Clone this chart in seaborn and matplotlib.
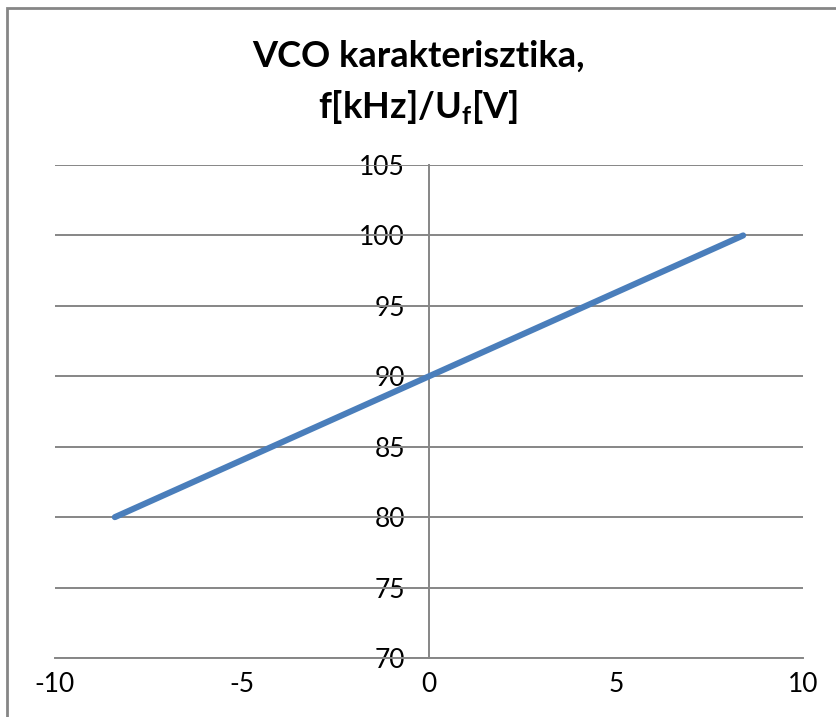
import matplotlib
matplotlib.use("Agg")
import matplotlib.pyplot as plt
import seaborn as sns
import pandas as pd
from matplotlib.patches import Rectangle

# Data
voltage_V = [-8.4, 0.0, 8.4]
freq_kHz = [80.0, 90.0, 100.0]
x_ticks = [-10, -5, 0, 5, 10]
y_ticks = [70, 75, 80, 85, 90, 95, 100, 105]
title_line1 = "VCO karakterisztika,"
title_line2 = r"f[kHz]/U$_\mathbf{f}$[V]"

sns.set_style("white")
plt.rcParams["font.family"] = ["Lato", "DejaVu Sans"]
plt.rcParams["mathtext.fontset"] = "custom"
plt.rcParams["mathtext.bf"] = "Lato:bold"
plt.rcParams["mathtext.rm"] = "Lato"

W, H = 837, 717
dpi = 100
fig = plt.figure(figsize=(W / dpi, H / dpi), dpi=dpi)
fig.patch.set_facecolor("white")

def fx(px):
    return px / W

def fy(py):
    return 1 - py / H

left, right, top, bottom = 55, 803, 165, 658
ax = fig.add_axes([fx(left), fy(bottom), fx(right) - fx(left), fy(top) - fy(bottom)])

df = pd.DataFrame({"U": voltage_V, "f": freq_kHz})
grid_c = "#868686"
for yv in y_ticks:
    ax.axhline(yv, color=grid_c, lw=1.4, zorder=1)

sns.lineplot(data=df, x="U", y="f", ax=ax, color="#4A7EBB", lw=4.4,
             solid_capstyle="round", zorder=3)

ax.set_xlim(-10, 10)
ax.set_ylim(70, 105)
ax.set_xticks(x_ticks)
ax.set_yticks(y_ticks)
ax.set_xlabel("")
ax.set_ylabel("")

for s in ["top", "right"]:
    ax.spines[s].set_visible(False)
ax.spines["left"].set_position(("data", 0))
ax.spines["left"].set_color(grid_c)
ax.spines["left"].set_linewidth(1.4)
ax.spines["bottom"].set_color(grid_c)
ax.spines["bottom"].set_linewidth(1.4)
ax.spines["left"].set_zorder(2)

ax.tick_params(axis="x", direction="out", length=5.8, width=1.4, color=grid_c,
               labelsize=19, pad=4.5, labelcolor="black")
ax.tick_params(axis="y", direction="out", length=5.8, width=1.4, color=grid_c,
               labelsize=19, pad=11.5, labelcolor="black")
ax.set_xticklabels([str(t) for t in x_ticks])
ax.set_yticklabels([str(t) for t in y_ticks])
for lab in ax.get_yticklabels():
    lab.set_verticalalignment("center_baseline")

# Title
fig.text(fx(418), fy(67), title_line1, ha="center", va="baseline",
         fontsize=26, fontweight="bold", color="black")
fig.text(fx(418), fy(118), title_line2, ha="center", va="baseline",
         fontsize=26, fontweight="bold", color="black")

# Chart-area border (extends past right and bottom edges)
fig.patches.append(Rectangle((fx(7.5), fy(760)), fx(900), fy(7.5) - fy(760),
                             transform=fig.transFigure, fill=False,
                             edgecolor="#868686", lw=2, clip_on=False))

fig.savefig("out.png", dpi=dpi)
